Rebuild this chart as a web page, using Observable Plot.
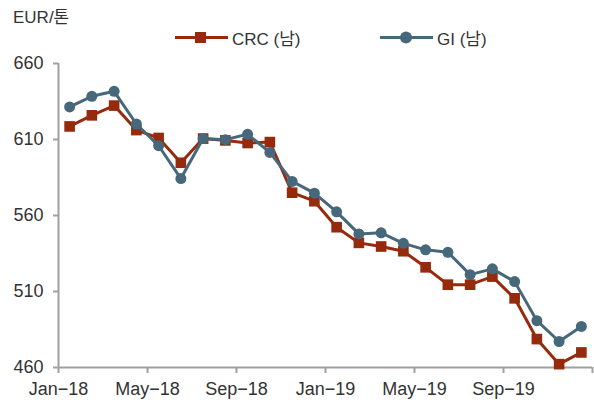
<!DOCTYPE html>
<html>
<head>
<meta charset="utf-8">
<script src="https://cdn.jsdelivr.net/npm/d3@7"></script>
<script src="https://cdn.jsdelivr.net/npm/@observablehq/plot@0.6"></script>
<style>
  html, body { margin: 0; padding: 0; background: #fff; }
  body { font-family: "Liberation Sans", "Noto Sans CJK KR", sans-serif; color: #333; }
  #wrap { position: relative; width: 594px; height: 405px; }
  #unit { position: absolute; left: 13px; top: 3px; font-size: 17px; color: #333; }
  .leg { position: absolute; top: 25px; display: flex; align-items: center; font-size: 17px; color: #333; }
  .leg svg { margin-right: 4px; }
</style>
</head>
<body>
<div id="wrap">
  <div id="unit">EUR/톤</div>
  <div class="leg" id="leg1" style="left:175px"></div>
  <div class="leg" id="leg2" style="left:380px"></div>
</div>
<script>
const months = ["Jan-18","Feb-18","Mar-18","Apr-18","May-18","Jun-18","Jul-18","Aug-18","Sep-18","Oct-18","Nov-18","Dec-18",
                "Jan-19","Feb-19","Mar-19","Apr-19","May-19","Jun-19","Jul-19","Aug-19","Sep-19","Oct-19","Nov-19","Dec-19"];
const crc = [618.6, 625.9, 632.3, 616.2, 611.0, 594.7, 610.6, 609.4, 607.7, 608.3, 575.0, 569.4,
             552.3, 542.0, 539.6, 536.5, 525.9, 514.5, 514.5, 519.8, 505.5, 478.7, 462.2, 469.9];
const gi  = [631.4, 638.4, 641.7, 620.2, 605.9, 584.3, 610.6, 609.9, 613.4, 601.5, 582.4, 574.7,
             562.4, 547.9, 548.6, 541.7, 537.4, 535.8, 521.1, 524.9, 516.5, 490.8, 477.1, 487.0];
const xTickLabels = ["Jan\u221218","May\u221218","Sep\u221218","Jan\u221219","May\u221219","Sep\u221219",""];
const yTicks = [460, 510, 560, 610, 660];
const seriesNames = ["CRC (남)", "GI (남)"];
const colors = ["#952a0c", "#46687a"];

const rows = [];
months.forEach((m, i) => {
  rows.push({series: seriesNames[0], idx: i + 0.5, value: crc[i]});
  rows.push({series: seriesNames[1], idx: i + 0.5, value: gi[i]});
});
const crcRows = rows.filter(d => d.series === seriesNames[0]);
const giRows = rows.filter(d => d.series === seriesNames[1]);
const xTicks = d3.range(0, months.length + 1, 4);

const chart = Plot.plot({
  width: 594,
  height: 405,
  marginTop: 63,
  marginBottom: 38,
  marginLeft: 58,
  marginRight: 2,
  style: {fontFamily: "'Liberation Sans', 'Noto Sans CJK KR', sans-serif", fontSize: "18px", color: "#333", background: "transparent"},
  x: {type: "linear", domain: [0, months.length], label: null},
  y: {domain: [460, 660], label: null},
  marks: [
    Plot.ruleY([460], {stroke: "#a0a0a0", strokeWidth: 2}),
    Plot.ruleX([0], {stroke: "#a0a0a0", strokeWidth: 2}),
    Plot.axisX({ticks: xTicks, tickFormat: (d) => xTickLabels[d / 4], tickSize: 6, tickPadding: 9, stroke: "#a0a0a0", strokeWidth: 2, fill: "#333", label: null}),
    Plot.axisY({ticks: yTicks, tickSize: 5, tickPadding: 10, stroke: "#a0a0a0", strokeWidth: 2, fill: "#333", label: null}),
    Plot.line(crcRows, {x: "idx", y: "value", stroke: colors[0], strokeWidth: 3}),
    Plot.dot(crcRows, {x: "idx", y: "value", symbol: "square", r: 6, fill: colors[0], stroke: null}),
    Plot.line(giRows, {x: "idx", y: "value", stroke: colors[1], strokeWidth: 3}),
    Plot.dot(giRows, {x: "idx", y: "value", symbol: "circle", r: 5.5, fill: colors[1], stroke: null})
  ]
});
chart.style.position = "absolute";
chart.style.left = "0px";
chart.style.top = "0px";
document.getElementById("wrap").prepend(chart);

function legendSwatch(color, shape) {
  const marker = shape === "square"
    ? `<rect x="20" y="5" width="11" height="11" fill="${color}"/>`
    : `<circle cx="26" cy="10.5" r="6" fill="${color}"/>`;
  return `<svg width="53" height="21"><line x1="0" x2="53" y1="10.5" y2="10.5" stroke="${color}" stroke-width="3"/>${marker}</svg>`;
}
document.getElementById("leg1").innerHTML = legendSwatch(colors[0], "square") + `<span>${seriesNames[0]}</span>`;
document.getElementById("leg2").innerHTML = legendSwatch(colors[1], "circle") + `<span>${seriesNames[1]}</span>`;
</script>
</body>
</html>
